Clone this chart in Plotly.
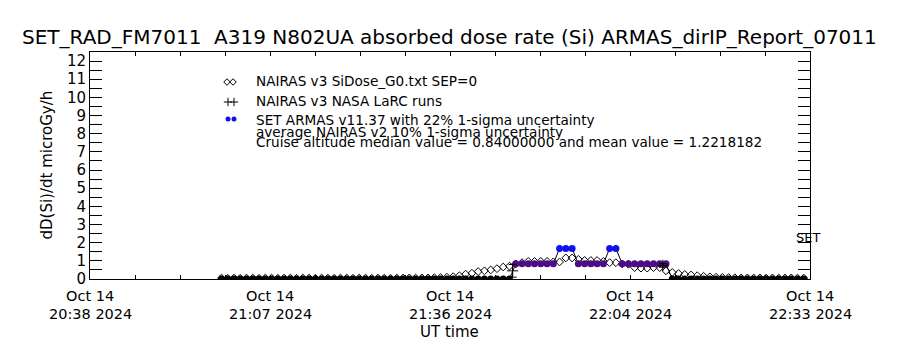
import plotly.graph_objects as go
import pandas as pd

# ---------------- data ----------------
x_range = ["2024-10-14 20:38:00", "2024-10-14 22:33:00"]
tick_dates = ["Oct 14", "Oct 14", "Oct 14", "Oct 14", "Oct 14"]
tick_times = ["20:38 2024", "21:07 2024", "21:36 2024", "22:04 2024", "22:33 2024"]
y_range = [0, 12.5]
y_tick_vals = [0, 1, 2, 3, 4, 5, 6, 7, 8, 9, 10, 11, 12]

series_start = "2024-10-14 20:59:00"   # 1-minute cadence

nairas_sidose = [
    0.05, 0.04, 0.05, 0.04, 0.05, 0.05, 0.04, 0.05, 0.05, 0.04,
    0.05, 0.05, 0.04, 0.05, 0.05, 0.04, 0.05, 0.05, 0.04, 0.05,
    0.05, 0.04, 0.05, 0.05, 0.04, 0.05, 0.05, 0.04, 0.05, 0.05,
    0.06, 0.05, 0.06, 0.06, 0.07, 0.08,
    0.10, 0.13, 0.18, 0.27, 0.32, 0.41, 0.45, 0.50, 0.57, 0.66,
    0.71, 0.83, 0.90, 0.97, 0.97, 0.97, 0.97, 0.94, 0.94, 1.16,
    1.16, 1.08, 1.02, 1.02, 1.02, 0.97, 0.90, 0.90, 0.83, 0.81,
    0.63, 0.60, 0.60, 0.63, 0.63, 0.45, 0.36, 0.30, 0.25, 0.22,
    0.18, 0.15, 0.12, 0.10, 0.09, 0.08, 0.07, 0.06, 0.06, 0.05,
    0.06, 0.05, 0.06, 0.05, 0.05, 0.06, 0.05, 0.05,
]

armas_dose = [
    0, 0, 0, 0, 0, 0, 0, 0, 0, 0,
    0, 0, 0, 0, 0, 0, 0, 0, 0, 0,
    0, 0, 0, 0, 0, 0, 0, 0, 0, 0,
    0, 0, 0, 0, 0, 0, 0, 0, 0, 0,
    0, 0, 0, 0, 0, 0, 0,
    0.84, 0.84, 0.84, 0.84, 0.84, 0.84, 0.84,
    1.68, 1.68, 1.68,
    0.84, 0.84, 0.84, 0.84, 0.84,
    1.68, 1.68,
    0.84, 0.84, 0.84, 0.84, 0.84, 0.84, 0.84, 0.84,
    0, 0, 0, 0, 0, 0, 0, 0, 0, 0,
    0, 0, 0, 0, 0, 0, 0, 0, 0, 0,
    0, 0,
]

larc_times = ["2024-10-14 21:45:30", "2024-10-14 22:09:30"]
larc_dose = [0.45, 0.75]
larc_err = [0.35, 0.10]

title_text = "SET_RAD_FM7011  A319 N802UA absorbed dose rate (Si) ARMAS_dirIP_Report_07011"
y_title = "dD(Si)/dt microGy/h"
x_title = "UT time"
legend_lines = [
    "NAIRAS v3 SiDose_G0.txt SEP=0",
    "NAIRAS v3 NASA LaRC runs",
    "SET ARMAS v11.37 with 22% 1-sigma uncertainty",
    "average NAIRAS v2 10% 1-sigma uncertainty",
    "Cruise altitude median value = 0.84000000 and mean value = 1.2218182",
]

# ---------------- build ----------------
FONT = "DejaVu Sans"
t_series = pd.date_range(series_start, periods=len(nairas_sidose), freq="1min")
color_for = {0: "#000000", 0.84: "#4f0a8a", 1.68: "#1010f0"}
armas_colors = [color_for[v] for v in armas_dose]

t0 = pd.Timestamp(x_range[0])
t1 = pd.Timestamp(x_range[1])
span = t1 - t0
tick_vals = [t0 + span * i / 4 for i in range(5)]

# plot area in pixels (for converting text placement to paper coords)
L, R, T, B = 90, 810, 52, 279
def px(xp):
    return (xp - L) / (R - L)
def py(yp):
    return (B - yp) / (B - T)

fig = go.Figure()

fig.add_trace(go.Scatter(
    x=t_series, y=nairas_sidose, mode="markers",
    marker=dict(symbol="diamond-open", size=6, color="black", line=dict(width=1)),
))
fig.add_trace(go.Scatter(
    x=t_series, y=armas_dose, mode="lines+markers",
    line=dict(color="black", width=1),
    marker=dict(symbol="circle", size=7, color=armas_colors, line=dict(width=0)),
))
fig.add_trace(go.Scatter(
    x=larc_times, y=larc_dose, mode="markers",
    marker=dict(symbol="cross-thin", size=8, line=dict(width=1, color="black")),
    error_y=dict(type="data", array=larc_err, color="black", thickness=1, width=4),
))

# legend symbols on pixel overlay axes
fig.add_trace(go.Scatter(
    x=[227, 233], y=[82, 82], xaxis="x2", yaxis="y2", mode="markers",
    marker=dict(symbol="diamond-open", size=5, color="black", line=dict(width=1)),
))
fig.add_trace(go.Scatter(
    x=[228, 234], y=[102, 102], xaxis="x2", yaxis="y2", mode="markers",
    marker=dict(symbol="cross-thin", size=6, line=dict(width=1, color="black")),
))
fig.add_trace(go.Scatter(
    x=[228, 234], y=[119, 119], xaxis="x2", yaxis="y2", mode="markers",
    marker=dict(symbol="circle", size=5, color="#1010f0"),
))

annots = []
leg_y = [81, 101, 120, 132, 142]
for txt, yy in zip(legend_lines, leg_y):
    annots.append(dict(x=px(254), y=py(yy), xref="paper", yref="paper", text=txt,
                       showarrow=False, xanchor="left", yanchor="middle",
                       font=dict(family=FONT, size=13.6, color="black")))
annots.append(dict(x=px(808), y=py(237), xref="paper", yref="paper", text="SET",
                   showarrow=False, xanchor="center", yanchor="middle",
                   font=dict(family=FONT, size=13, color="black")))
annots.append(dict(x=px(46), y=py(165.5), xref="paper", yref="paper", text=y_title,
                   showarrow=False, textangle=-90, xanchor="center", yanchor="middle",
                   font=dict(family=FONT, size=15, color="black")))
annots.append(dict(x=px(449), y=py(332), xref="paper", yref="paper", text=x_title,
                   showarrow=False, xanchor="center", yanchor="middle",
                   font=dict(family=FONT, size=15, color="black")))
annots.append(dict(x=px(449), y=py(37), xref="paper", yref="paper", text=title_text,
                   showarrow=False, xanchor="center", yanchor="middle",
                   font=dict(family=FONT, size=20, color="black")))
# two-line date tick labels placed at the axis tick values
for tv, d, tm in zip(tick_vals, tick_dates, tick_times):
    annots.append(dict(x=tv, y=py(295.5), xref="x", yref="paper", text=d, showarrow=False,
                       xanchor="center", yanchor="middle",
                       font=dict(family=FONT, size=14.5, color="black")))
    annots.append(dict(x=tv, y=py(314), xref="x", yref="paper", text=tm, showarrow=False,
                       xanchor="center", yanchor="middle",
                       font=dict(family=FONT, size=14.5, color="black")))

fig.update_layout(
    width=900, height=350,
    margin=dict(l=L, r=900 - R, t=T, b=350 - B),
    paper_bgcolor="white", plot_bgcolor="white",
    showlegend=False,
    font=dict(family=FONT, size=15, color="black"),
    annotations=annots,
    xaxis=dict(
        type="date", range=[t0, t1],
        tickmode="array", tickvals=tick_vals, showticklabels=False,
        ticks="inside", ticklen=4, tickcolor="black",
        showline=True, linecolor="black", linewidth=1, mirror="ticks",
        showgrid=False, zeroline=False,
        minor=dict(ticks="inside", ticklen=4, tickcolor="black",
                   dtick=span.total_seconds() * 1000 / 16, tick0=t0, showgrid=False),
    ),
    yaxis=dict(
        range=y_range, tickmode="array", tickvals=y_tick_vals,
        ticks="inside", ticklen=12, tickcolor="black",
        showline=True, linecolor="black", linewidth=1, mirror="ticks",
        showgrid=False, zeroline=False,
        tickfont=dict(family=FONT, size=15, color="black"),
        minor=dict(ticks="inside", ticklen=12, tickcolor="black", dtick=0.5, showgrid=False),
    ),
    xaxis2=dict(overlaying="x", anchor="y2", range=[L, R], visible=False),
    yaxis2=dict(overlaying="y", anchor="x2", range=[B, T], visible=False),
)

fig.write_html("out.html")
